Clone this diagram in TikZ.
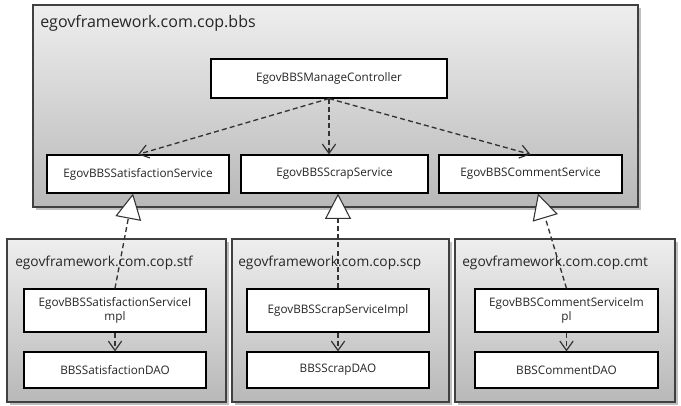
\documentclass[tikz,border=0pt]{standalone}
\usepackage{fontspec}
\setmainfont{Open Sans}
\usetikzlibrary{arrows.meta,shadows}

\definecolor{pkgtop}{RGB}{238,238,238}
\definecolor{pkgbottom}{RGB}{184,184,184}
\definecolor{pkgline}{RGB}{64,64,64}
\definecolor{arrowgray}{RGB}{51,51,51}

\tikzset{
  pkg/.style={draw=pkgline, line width=1pt, top color=pkgtop, bottom color=pkgbottom,
    drop shadow={shadow xshift=2.2pt, shadow yshift=-2.2pt, opacity=0.5}},
  pkgtitle/.style={anchor=west, inner sep=0pt, text=black!85},
  cls/.style={draw=black, line width=0.9pt, fill=white, inner sep=1pt, align=center,
    font=\fontsize{8.8}{10.5}\selectfont, text=black!85},
  dep/.style={draw=arrowgray, line width=1pt, dash pattern=on 3.75pt off 2.4pt,
    -{Straight Barb[length=7pt,width=10pt,line width=0.9pt]}},
  realize/.style={draw=arrowgray, line width=1pt, dash pattern=on 3.75pt off 2.4pt,
    -{Triangle[length=19pt,width=19.5pt,fill=white,line width=0.8pt]}},
}

\begin{document}
\begin{tikzpicture}[x=0.75pt, y=-0.75pt]
    \useasboundingbox (0,0) rectangle (681,405);

    % Package bbs
    \draw[pkg] (33,5) rectangle (638,207);
    \node[pkgtitle, font=\fontsize{12}{14}\selectfont] (ttlBbs) at (40,23) {egovframework.com.cop.bbs};
    \node[cls, minimum width=177pt, minimum height=29.25pt] (ctrl) at (329,78.5) {EgovBBSManageController};
    \node[cls, minimum width=136.5pt, minimum height=28.5pt] (svcStf) at (138,174) {EgovBBSSatisfactionService};
    \node[cls, minimum width=140.25pt, minimum height=28.5pt] (svcScp) at (334.5,174) {EgovBBSScrapService};
    \node[cls, minimum width=137.25pt, minimum height=28.5pt] (svcCmt) at (530.5,174) {EgovBBSCommentService};

    % Package stf
    \draw[pkg] (7,239) rectangle (226,402);
    \node[pkgtitle, font=\fontsize{10.3}{12}\selectfont] (ttlStf) at (15,263) {egovframework.com.cop.stf};
    \node[cls, minimum width=136.5pt, minimum height=32.25pt] (implStf) at (115,310.5) {EgovBBSSatisfactionServiceI\\mpl};
    \node[cls, minimum width=136.5pt, minimum height=27pt] (daoStf) at (115,370) {BBSSatisfactionDAO};

    % Package scp
    \draw[pkg] (232,239) rectangle (449,402);
    \node[pkgtitle, font=\fontsize{10.3}{12}\selectfont] (ttlScp) at (238,263) {egovframework.com.cop.scp};
    \node[cls, minimum width=136.5pt, minimum height=32.25pt] (implScp) at (338,310.5) {EgovBBSScrapServiceImpl};
    \node[cls, minimum width=136.5pt, minimum height=27pt] (daoScp) at (338,370) {BBSScrapDAO};

    % Package cmt
    \draw[pkg] (455,239) rectangle (675,402);
    \node[pkgtitle, font=\fontsize{10.3}{12}\selectfont] (ttlCmt) at (462,263) {egovframework.com.cop.cmt};
    \node[cls, minimum width=137.25pt, minimum height=32.25pt] (implCmt) at (566.5,310.5) {EgovBBSCommentServiceIm\\pl};
    \node[cls, minimum width=137.25pt, minimum height=27pt] (daoCmt) at (566.5,370) {BBSCommentDAO};

    % Controller uses the services
    \draw[dep] (ctrl.south) -- (svcStf.north);
    \draw[dep] (ctrl.south) -- (ctrl.south |- svcScp.north);
    \draw[dep] (ctrl.south) -- (svcCmt.north);

    % Implementations
    \draw[realize] (implStf.north) -- ([xshift=-3.75pt]svcStf.south);
    \draw[realize] (implScp.north) -- (implScp.north |- svcScp.south);
    \draw[realize] (implCmt.north) -- ([xshift=5.6pt]svcCmt.south);

    % Implementations use the DAOs
    \draw[dep] (implStf.south) -- (daoStf.north);
    \draw[dep] (implScp.south) -- (daoScp.north);
    \draw[dep] (implCmt.south) -- (daoCmt.north);
\end{tikzpicture}
\end{document}
